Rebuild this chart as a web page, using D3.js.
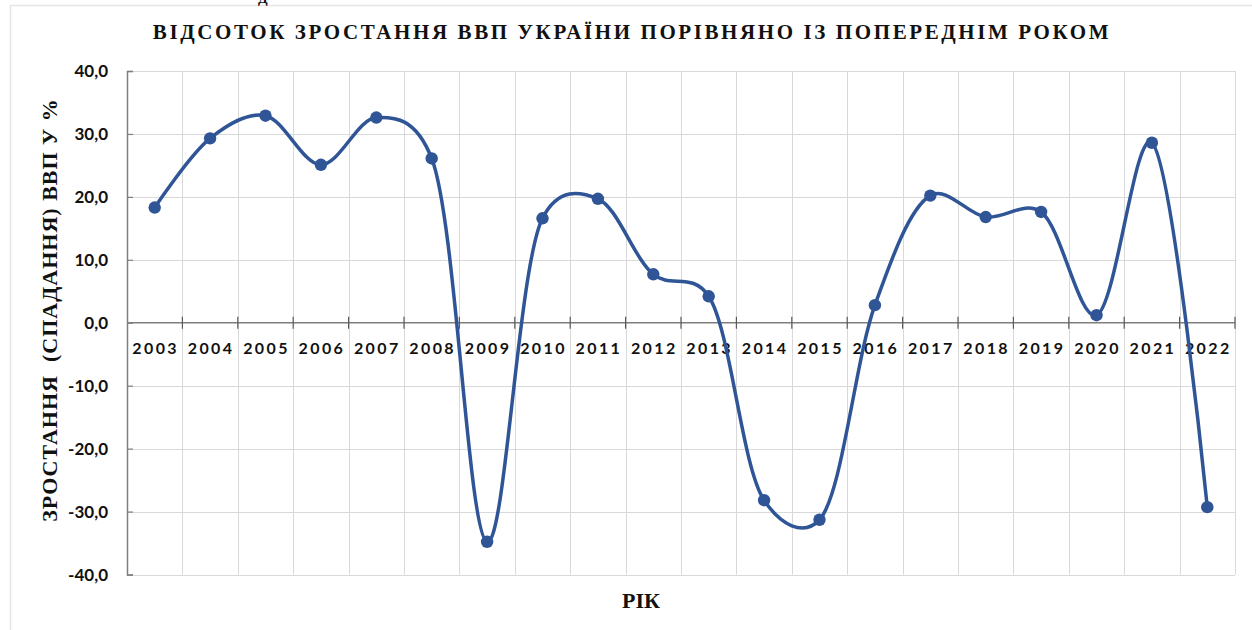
<!DOCTYPE html>
<html lang="uk">
<head>
<meta charset="UTF-8" />
<title>ВВП України</title>
<style>
  body { margin: 0; background: #fff; }
  svg { display: block; }
  .tick-y { font-family: Lato, "Open Sans", sans-serif; font-weight: bold; font-size: 17px; fill: #111; }
  .tick-x { font-family: Lato, "Open Sans", sans-serif; font-weight: bold; font-size: 16px; fill: #111; letter-spacing: 2.4px; }
  .serif { font-family: "Liberation Serif", "DejaVu Serif", serif; font-weight: bold; fill: #111; }
</style>
</head>
<body>
<svg id="chart" width="1252" height="630"></svg>
<script src="https://d3js.org/d3.v7.min.js"></script>
<script>
  const years = ["2003", "2004", "2005", "2006", "2007", "2008", "2009", "2010", "2011", "2012",
                 "2013", "2014", "2015", "2016", "2017", "2018", "2019", "2020", "2021", "2022"];
  const growth = [18.3, 29.3, 32.9, 25.1, 32.6, 26.1, -34.8, 16.6, 19.7, 7.7,
                  4.2, -28.2, -31.3, 2.8, 20.2, 16.8, 17.6, 1.2, 28.6, -29.3];
  const yTicks = [-40, -30, -20, -10, 0, 10, 20, 30, 40];

  const title = "ВІДСОТОК ЗРОСТАННЯ ВВП УКРАЇНИ ПОРІВНЯНО ІЗ ПОПЕРЕДНІМ РОКОМ";
  const yTitle = "ЗРОСТАННЯ  (СПАДАННЯ) ВВП У %";
  const xTitle = "РІК";

  const svg = d3.select("#chart");
  const plot = { left: 127, right: 1235, top: 71, bottom: 574.5 };

  const x = d3.scaleBand().domain(years).range([plot.left, plot.right]);
  const y = d3.scaleLinear().domain([-40, 40]).range([plot.bottom, plot.top]);

  // outer chart border (cropped at right/bottom)
  svg.append("rect")
    .attr("x", 10.5).attr("y", 5.5).attr("width", 1300).attr("height", 700)
    .attr("fill", "none").attr("stroke", "#e6e6e6").attr("stroke-width", 1.5);

  // a stray glyph from the page above, cut off at the top
  svg.append("text").attr("class", "serif").attr("x", 258).attr("y", 3)
    .attr("font-size", 14).attr("font-weight", "normal").text("Д");

  // gridlines
  const grid = svg.append("g").attr("stroke", "#d9d9d9").attr("stroke-width", 1);
  grid.selectAll("line.h").data(yTicks.filter(d => d !== 0)).join("line")
    .attr("x1", plot.left).attr("x2", plot.right)
    .attr("y1", d => Math.round(y(d)) + 0.5).attr("y2", d => Math.round(y(d)) + 0.5);
  const bounds = years.slice(1).map(d => x(d)).concat([plot.right]);
  grid.selectAll("line.v").data(bounds).join("line")
    .attr("x1", d => Math.round(d) + 0.5).attr("x2", d => Math.round(d) + 0.5)
    .attr("y1", plot.top).attr("y2", plot.bottom);

  // y axis
  const yAxis = svg.append("g")
    .attr("transform", `translate(${plot.left},0)`)
    .call(d3.axisRight(y).tickValues(yTicks).tickSize(6).tickFormat(""));
  yAxis.select(".domain").attr("stroke", "#7f7f7f").attr("stroke-width", 1.5);
  yAxis.selectAll(".tick line").attr("stroke", "#7f7f7f").attr("stroke-width", 1.2);

  svg.append("g").selectAll("text").data(yTicks).join("text")
    .attr("class", "tick-y")
    .attr("x", 108).attr("y", d => y(d) + 6)
    .attr("text-anchor", "end")
    .text(d => d3.format(".1f")(d).replace(".", ",").replace("−", "-"));

  // x axis at zero with crossing ticks
  const x0 = y(0);
  const xAxis = svg.append("g");
  xAxis.append("line")
    .attr("x1", plot.left).attr("x2", plot.right)
    .attr("y1", x0).attr("y2", x0)
    .attr("stroke", "#7f7f7f").attr("stroke-width", 1.5);
  xAxis.selectAll("line.t").data(bounds).join("line")
    .attr("x1", d => d).attr("x2", d => d)
    .attr("y1", x0 - 6).attr("y2", x0 + 6)
    .attr("stroke", "#595959").attr("stroke-width", 1.2);

  svg.append("g").selectAll("text").data(years).join("text")
    .attr("class", "tick-x")
    .attr("x", d => x(d) + x.bandwidth() / 2 + 1)
    .attr("y", x0 + 31)
    .attr("text-anchor", "middle")
    .text(d => d);

  // series (smoothed like Excel)
  const pts = years.map((yr, i) => ({ yr, v: growth[i] }));
  const line = d3.line()
    .x(d => x(d.yr) + x.bandwidth() / 2)
    .y(d => y(d.v))
    .curve(d3.curveCatmullRom.alpha(0.25));

  svg.append("path").datum(pts)
    .attr("d", line)
    .attr("fill", "none")
    .attr("stroke", "#2f5597")
    .attr("stroke-width", 3.5)
    .attr("stroke-linejoin", "round");

  svg.append("g").selectAll("circle").data(pts).join("circle")
    .attr("cx", d => x(d.yr) + x.bandwidth() / 2)
    .attr("cy", d => y(d.v))
    .attr("r", 6.2)
    .attr("fill", "#2f5597");

  // titles
  svg.append("text").attr("class", "serif")
    .attr("x", 632).attr("y", 39)
    .attr("text-anchor", "middle")
    .attr("font-size", 21).attr("letter-spacing", "2.6px")
    .text(title);

  svg.append("text").attr("class", "serif")
    .attr("transform", "translate(57,310) rotate(-90)")
    .attr("text-anchor", "middle")
    .attr("font-size", 22).attr("letter-spacing", "1px")
    .attr("xml:space", "preserve")
    .style("white-space", "pre")
    .text(yTitle);

  svg.append("text").attr("class", "serif")
    .attr("x", 641).attr("y", 608)
    .attr("text-anchor", "middle")
    .attr("font-size", 22)
    .text(xTitle);
</script>
</body>
</html>
